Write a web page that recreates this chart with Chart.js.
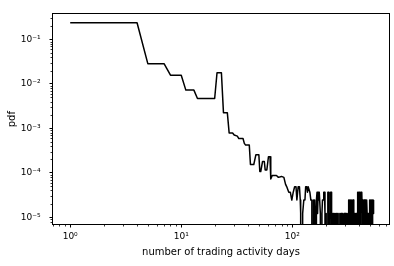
<!DOCTYPE html>
<html><head><meta charset="utf-8">
<script src="https://cdn.jsdelivr.net/npm/chart.js@4"></script>
<style>html,body{margin:0;padding:0;background:#fff}#wrap{width:394px;height:266px;position:relative}</style>
</head><body><div id="wrap"><canvas id="c"></canvas></div>
<script>
// Head of the curve: vertices (days, pdf)
const headDays = [1, 4, 5, 7, 8, 10, 11, 13, 14, 20, 21, 23, 24, 26, 27, 29, 30, 32, 33, 36, 37, 38, 41, 42, 45, 47, 50, 51, 52, 54, 56, 57, 59, 61, 63, 64, 66, 72, 75, 80, 84, 87, 89];
const headPdf = [0.238, 0.238, 0.0286, 0.0286, 0.0157, 0.0157, 0.00726, 0.00726, 0.00471, 0.00471, 0.0179, 0.0179, 0.00226, 0.00226, 0.00079, 0.00079, 0.00071, 0.00067, 0.00059, 0.00059, 0.00046, 0.00042, 0.00042, 0.000154, 0.000154, 0.000254, 0.000254, 0.000107, 0.000107, 0.00018, 0.00018, 0.000116, 0.000116, 0.00023, 0.00023, 0.000073, 0.000087, 0.000087, 0.000079, 0.000083, 0.000079, 0.000055, 0.000049];

// Tail: quantised levels (multiples of one count), 0 = empty bin (clipped on log axis)
const unitPdf = 1.22e-5;
const tailDays = [93, 96, 99, 102, 105, 108, 110, 113, 116, 118, 119, 121, 124, 127, 130, 132, 135, 137, 139, 141, 144, 147, 150, 152, 155, 157, 159, 161, 163, 165, 167, 169, 171, 173, 175, 177, 179, 182, 185, 187, 190, 192, 195, 197, 200, 202, 205, 207, 209, 212, 214, 217, 219, 221, 224, 226,
  229, 232, 235, 238, 241, 244, 247, 250, 253, 256, 259, 262, 265, 268, 271, 274, 277, 280, 283, 286, 289, 292, 295, 298, 301, 304, 307, 310, 313, 316, 319,
  322, 325, 328, 331, 334, 337, 340, 343, 346, 349, 352, 355,
  358, 361, 364, 367, 370, 373, 376, 379, 382, 385,
  388, 391, 394, 397, 400, 403, 406, 409, 412, 415, 418, 421, 424, 427, 430,
  433, 436, 439, 442, 445, 448, 451, 454, 457, 460, 463, 466, 469,
  472, 475, 478, 481, 484, 487, 490, 493, 496,
  499, 502, 505, 508, 511, 514, 517, 520, 523, 526, 529, 532, 535, 538, 541];
const tailCounts = [3, 3, 2, 3, 4, 4, 2, 4, 4, 2, 1, 0, 1, 2, 2, 4, 4, 3, 4, 4, 3, 2, 2, 0, 2, 0, 2, 1, 0, 2, 3, 1, 3, 2, 3, 3, 1, 0, 1, 2, 2, 3, 3, 1, 0, 1, 1, 0, 3, 3, 1, 0, 1, 3, 3, 1,
  0, 1, 1, 0, 1, 0, 1, 1, 0, 1, 1, 1, 0, 1, 0, 1, 1, 0, 1, 1, 0, 1, 1, 0, 1, 0, 1, 1, 0, 1, 1,
  2, 0, 2, 1, 2, 0, 2, 2, 1, 2, 0, 2,
  1, 0, 1, 1, 0, 1, 1, 0, 1, 0,
  3, 1, 3, 0, 3, 2, 3, 0, 3, 1, 3, 2, 3, 1, 0,
  2, 0, 2, 1, 2, 0, 2, 2, 0, 2, 1, 2, 2,
  1, 0, 1, 1, 0, 1, 0, 1, 0,
  2, 0, 2, 1, 2, 0, 2, 2, 0, 2, 1, 2, 2, 1, 2];

const xTickValues = [1, 10, 100];
const xTickLabels = ['10\u2070', '10\u00B9', '10\u00B2'];
const yTickValues = [1e-5, 1e-4, 1e-3, 1e-2, 1e-1];
const yTickLabels = ['10\u207B\u2075', '10\u207B\u2074', '10\u207B\u00B3', '10\u207B\u00B2', '10\u207B\u00B9'];
const xTitle = 'number of trading activity days';
const yTitle = 'pdf';

const CLIP_FLOOR = 1e-30; // matplotlib clips non-positive values far below the axis
const points = [];
headDays.forEach((d, i) => points.push({x: d, y: headPdf[i]}));
tailDays.forEach((d, i) => points.push({x: d, y: tailCounts[i] > 0 ? tailCounts[i] * unitPdf : CLIP_FLOOR}));

const FONT = 'DejaVu Sans';

const frameAndMinor = {
  id: 'frameAndMinor',
  afterDraw(chart) {
    const {ctx, chartArea: a, scales: {x, y}} = chart;
    ctx.save();
    ctx.strokeStyle = '#000';
    ctx.lineWidth = 1;
    const L = Math.round(a.left) - 0.5, T = Math.round(a.top) - 0.5;
    const R = Math.round(a.right) + 0.5, B = Math.round(a.bottom) + 0.5;
    ctx.strokeRect(L, T, R - L, B - T);
    ctx.lineWidth = 0.8;
    for (const s of [x, y]) {
      const lo = Math.floor(Math.log10(s.min)), hi = Math.ceil(Math.log10(s.max));
      for (let e = lo; e <= hi; e++) {
        for (let m = 2; m <= 9; m++) {
          const v = m * Math.pow(10, e);
          if (v < s.min || v > s.max) continue;
          const p = Math.round(s.getPixelForValue(v)) + 0.5;
          ctx.beginPath();
          if (s === x) { ctx.moveTo(p, B); ctx.lineTo(p, B + 2); }
          else { ctx.moveTo(L, p); ctx.lineTo(L - 2, p); }
          ctx.stroke();
        }
      }
    }
    ctx.restore();
  }
};

new Chart(document.getElementById('c'), {
  type: 'line',
  data: {
    datasets: [{
      data: points,
      borderColor: '#000',
      borderWidth: 1.5,
      pointRadius: 0,
      tension: 0,
      fill: false,
      borderJoinStyle: 'round'
    }]
  },
  plugins: [frameAndMinor],
  options: {
    responsive: true,
    maintainAspectRatio: false,
    animation: false,
    events: [],
    layout: {padding: {left: 0, right: 5, top: 7, bottom: 0}},
    plugins: {legend: {display: false}, tooltip: {enabled: false}},
    scales: {
      x: {
        type: 'logarithmic',
        min: 0.734,
        max: 743,
        afterBuildTicks: s => { s.ticks = xTickValues.map(v => ({value: v})); },
        afterFit: s => { s.height = 42; },
        ticks: {
          autoSkip: false, maxRotation: 0, padding: 4,
          color: '#000',
          font: {family: FONT, size: 9},
          callback: (v, i) => xTickLabels[i]
        },
        grid: {drawOnChartArea: false, drawTicks: true, tickLength: 3.5, color: '#000', tickColor: '#000', lineWidth: 1},
        border: {display: false},
        title: {display: true, text: xTitle, color: '#000', font: {family: FONT, size: 10}, padding: {top: 0, bottom: 8}}
      },
      y: {
        type: 'logarithmic',
        min: 7.05e-6,
        max: 0.367,
        afterBuildTicks: s => { s.ticks = yTickValues.map(v => ({value: v})); },
        afterFit: s => { s.width = 53; },
        ticks: {
          autoSkip: false,
          padding: 9,
          color: '#000',
          font: {family: FONT, size: 9},
          callback: (v, i) => yTickLabels[i]
        },
        grid: {drawOnChartArea: false, drawTicks: true, tickLength: 3.5, color: '#000', tickColor: '#000', lineWidth: 1},
        border: {display: false},
        title: {display: true, text: yTitle, color: '#000', font: {family: FONT, size: 10}, padding: {top: 6, bottom: 0}}
      }
    }
  }
});
</script>
</body></html>
